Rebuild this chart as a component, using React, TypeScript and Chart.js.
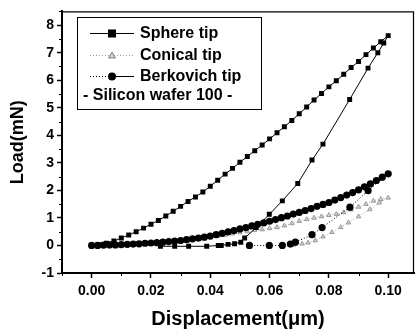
import React, { useEffect, useRef } from 'react';
import { Chart, registerables } from 'chart.js';
Chart.register(...registerables);

// ---- Data ----
const sphereLoadX = [0, 0.0025, 0.005, 0.0075, 0.01, 0.0125, 0.015, 0.0175, 0.02, 0.0225, 0.025, 0.0275, 0.03, 0.0325, 0.035, 0.0375, 0.04, 0.0425, 0.045, 0.0475, 0.05, 0.0525, 0.055, 0.0575, 0.06, 0.0625, 0.065, 0.0675, 0.07, 0.0725, 0.075, 0.0775, 0.08, 0.0825, 0.085, 0.0875, 0.09, 0.0925, 0.095, 0.0975, 0.1];
const sphereLoadY = [0, 0.03, 0.08, 0.16, 0.27, 0.38, 0.5, 0.63, 0.77, 0.91, 1.07, 1.24, 1.42, 1.6, 1.76, 1.94, 2.15, 2.37, 2.59, 2.8, 3.02, 3.23, 3.44, 3.65, 3.87, 4.09, 4.31, 4.54, 4.78, 5.03, 5.28, 5.52, 5.76, 5.98, 6.22, 6.46, 6.68, 6.93, 7.17, 7.4, 7.62];
const sphereUnloadX = [0.0985, 0.0965, 0.0932, 0.087, 0.078, 0.0743, 0.0695, 0.0643, 0.0599, 0.0555, 0.0516, 0.0503, 0.0482, 0.046, 0.0437, 0.0427, 0.0388, 0.0327, 0.028, 0.0232];
const sphereUnloadY = [7.35, 7.0, 6.44, 5.3, 3.68, 3.1, 2.25, 1.62, 1.13, 0.65, 0.27, 0.12, 0.06, 0.04, 0.0, 0.0, -0.03, -0.03, -0.03, -0.03];

const conicalLoadX = [0, 0.0025, 0.005, 0.0075, 0.01, 0.0125, 0.015, 0.0175, 0.02, 0.0225, 0.025, 0.0275, 0.03, 0.0325, 0.035, 0.0375, 0.04, 0.0425, 0.045, 0.0475, 0.05, 0.0525, 0.055, 0.0575, 0.06, 0.0625, 0.065, 0.0675, 0.07, 0.0725, 0.075, 0.0775, 0.08, 0.0825, 0.085, 0.0875, 0.09, 0.0925, 0.095, 0.0975, 0.1];
const conicalLoadY = [0, 0.0, 0.01, 0.02, 0.03, 0.04, 0.05, 0.065, 0.08, 0.1, 0.12, 0.145, 0.17, 0.2, 0.23, 0.26, 0.3, 0.34, 0.38, 0.43, 0.47, 0.51, 0.55, 0.58, 0.62, 0.66, 0.72, 0.8, 0.88, 0.95, 1.0, 1.05, 1.1, 1.14, 1.2, 1.3, 1.4, 1.5, 1.62, 1.68, 1.73];
const conicalUnloadX = [0.097, 0.0938, 0.09, 0.0866, 0.084, 0.081, 0.078, 0.0754, 0.073, 0.071, 0.068, 0.064];
const conicalUnloadY = [1.55, 1.31, 1.05, 0.83, 0.66, 0.48, 0.32, 0.18, 0.1, 0.06, 0.02, 0.0];

const berkLoadX = [0, 0.002, 0.004, 0.006, 0.008, 0.01, 0.012, 0.014, 0.016, 0.018, 0.02, 0.022, 0.024, 0.026, 0.028, 0.03, 0.032, 0.034, 0.036, 0.038, 0.04, 0.042, 0.044, 0.046, 0.048, 0.05, 0.052, 0.054, 0.056, 0.058, 0.06, 0.062, 0.064, 0.066, 0.068, 0.07, 0.072, 0.074, 0.076, 0.078, 0.08, 0.082, 0.084, 0.086, 0.088, 0.09, 0.092, 0.094, 0.096, 0.098, 0.1];
const berkLoadY = [0, 0.0, 0.01, 0.02, 0.02, 0.03, 0.04, 0.05, 0.06, 0.08, 0.09, 0.1, 0.12, 0.14, 0.16, 0.18, 0.21, 0.24, 0.27, 0.3, 0.34, 0.39, 0.44, 0.49, 0.54, 0.6, 0.65, 0.71, 0.77, 0.82, 0.88, 0.94, 1.01, 1.07, 1.14, 1.2, 1.27, 1.34, 1.42, 1.49, 1.56, 1.65, 1.74, 1.83, 1.92, 2.02, 2.13, 2.24, 2.36, 2.48, 2.6];
const berkUnloadX = [0.0932, 0.0871, 0.0777, 0.0743, 0.0687, 0.067, 0.0643, 0.0599, 0.0532];
const berkUnloadY = [1.99, 1.39, 0.65, 0.39, 0.12, 0.05, 0.0, 0.0, 0.0];

const xTickValues = [0, 0.02, 0.04, 0.06, 0.08, 0.1];
const yTickValues = [-1, 0, 1, 2, 3, 4, 5, 6, 7, 8];
const xMinorValues = [-0.01, 0.01, 0.03, 0.05, 0.07, 0.09];
const yMinorValues = [-0.5, 0.5, 1.5, 2.5, 3.5, 4.5, 5.5, 6.5, 7.5, 8.5];

const seriesNames = ['Sphere tip', 'Conical tip', 'Berkovich tip'];
const legendNote = '- Silicon wafer 100 -';

const FONT = '"Liberation Sans", Arial, sans-serif';

const toPts = (xs: number[], ys: number[]) => xs.map((x, i) => ({ x, y: ys[i] }));

const framePlugin = {
  id: 'frameAndMinor',
  afterDraw(chart: any) {
    const { ctx, chartArea } = chart;
    const xs = chart.scales.x;
    const ys = chart.scales.y;
    ctx.save();
    ctx.strokeStyle = '#000';
    ctx.lineWidth = 1.2;
    ctx.beginPath();
    ctx.moveTo(chartArea.left, chartArea.top + 0.5);
    ctx.lineTo(chartArea.right, chartArea.top + 0.5);
    ctx.moveTo(chartArea.right - 0.5, chartArea.top);
    ctx.lineTo(chartArea.right - 0.5, chartArea.bottom);
    ctx.stroke();
    ctx.lineWidth = 1;
    ctx.beginPath();
    xMinorValues.forEach((v) => {
      const px = Math.round(xs.getPixelForValue(v)) + 0.5;
      ctx.moveTo(px, chartArea.bottom);
      ctx.lineTo(px, chartArea.bottom + 3);
    });
    yMinorValues.forEach((v) => {
      const py = Math.round(ys.getPixelForValue(v)) + 0.5;
      ctx.moveTo(chartArea.left - 3, py);
      ctx.lineTo(chartArea.left, py);
    });
    ctx.stroke();
    ctx.restore();
  },
};

const legendPlugin = {
  id: 'boxLegend',
  afterDatasetsDraw(chart: any) {
    const { ctx } = chart;
    ctx.save();
    ctx.fillStyle = '#fff';
    ctx.fillRect(77.5, 17.5, 184, 92);
    ctx.strokeStyle = '#000';
    ctx.lineWidth = 1;
    ctx.strokeRect(77.5, 17.5, 184, 92);

    const rows = [33, 55, 76];
    const mx = 112;
    // Sphere
    ctx.setLineDash([]);
    ctx.strokeStyle = '#000';
    ctx.beginPath();
    ctx.moveTo(90, rows[0] + 0.5);
    ctx.lineTo(134, rows[0] + 0.5);
    ctx.stroke();
    ctx.fillStyle = '#000';
    ctx.fillRect(mx - 4, rows[0] - 3.5, 8, 8);
    // Conical
    ctx.strokeStyle = '#999';
    ctx.setLineDash([1, 2]);
    ctx.beginPath();
    ctx.moveTo(90, rows[1] + 0.5);
    ctx.lineTo(134, rows[1] + 0.5);
    ctx.stroke();
    ctx.setLineDash([]);
    ctx.fillStyle = '#ccc';
    ctx.strokeStyle = '#888';
    ctx.beginPath();
    ctx.moveTo(mx, rows[1] - 3);
    ctx.lineTo(mx + 3.5, rows[1] + 3);
    ctx.lineTo(mx - 3.5, rows[1] + 3);
    ctx.closePath();
    ctx.fill();
    ctx.stroke();
    // Berkovich
    ctx.strokeStyle = '#000';
    ctx.setLineDash([1, 2]);
    ctx.beginPath();
    ctx.moveTo(90, rows[2] + 0.5);
    ctx.lineTo(mx, rows[2] + 0.5);
    ctx.stroke();
    ctx.setLineDash([]);
    ctx.beginPath();
    ctx.moveTo(mx, rows[2] + 0.5);
    ctx.lineTo(134, rows[2] + 0.5);
    ctx.stroke();
    ctx.fillStyle = '#000';
    ctx.beginPath();
    ctx.arc(mx, rows[2] + 0.5, 4, 0, Math.PI * 2);
    ctx.fill();

    ctx.fillStyle = '#000';
    ctx.font = `bold 16px ${FONT}`;
    ctx.textBaseline = 'middle';
    ctx.textAlign = 'left';
    seriesNames.forEach((n, i) => ctx.fillText(n, 140, rows[i] + 1));
    ctx.fillText(legendNote, 83, 96);
    ctx.restore();
  },
};

export default function App() {
  const ref = useRef<HTMLCanvasElement>(null);
  useEffect(() => {
    if (!ref.current) return;
    const chart = new Chart(ref.current, {
      type: 'scatter',
      data: {
        datasets: [
          {
            label: seriesNames[0],
            data: [...toPts(sphereLoadX, sphereLoadY), ...toPts(sphereUnloadX, sphereUnloadY)],
            showLine: true,
            borderColor: '#000',
            backgroundColor: '#000',
            borderWidth: 1,
            pointStyle: 'rect',
            pointRadius: 3.5,
            pointBorderWidth: 0,
            order: 0,
          },
          {
            label: seriesNames[1],
            data: [...toPts(conicalLoadX, conicalLoadY), ...toPts(conicalUnloadX, conicalUnloadY)],
            showLine: true,
            borderColor: '#aaa',
            backgroundColor: '#d0d0d0',
            borderWidth: 1,
            borderDash: [1, 2],
            pointStyle: 'triangle',
            pointRadius: 2.6,
            pointBorderColor: '#999',
            pointBorderWidth: 1,
            order: 2,
          },
          {
            label: seriesNames[2],
            data: [...toPts(berkLoadX, berkLoadY), ...toPts(berkUnloadX, berkUnloadY)],
            showLine: true,
            borderColor: '#000',
            backgroundColor: '#000',
            borderWidth: 1,
            borderDash: [1, 2],
            pointStyle: 'circle',
            pointRadius: 3.6,
            pointBorderWidth: 0,
            order: 1,
          },
        ],
      },
      options: {
        animation: false,
        responsive: false,
        layout: { padding: { top: 7, right: 1, left: 0, bottom: 0 } },
        plugins: { legend: { display: false }, tooltip: { enabled: false } },
        scales: {
          x: {
            type: 'linear',
            min: -0.01,
            max: 0.1087,
            afterBuildTicks: (s: any) => {
              s.ticks = xTickValues.map((v) => ({ value: v }));
            },
            afterFit: (s: any) => {
              s.height = 61;
            },
            grid: { drawOnChartArea: false, drawTicks: true, tickLength: 5, color: '#000', tickWidth: 1.5 },
            border: { display: true, color: '#000', width: 2 },
            ticks: {
              color: '#000',
              font: { family: FONT, size: 14, weight: 'bold' },
              padding: 5,
              maxRotation: 0,
              callback: (v: any) => Number(v).toFixed(2),
            },
            title: {
              display: true,
              text: 'Displacement(\u03bcm)',
              color: '#000',
              font: { family: FONT, size: 20, weight: 'bold' },
              padding: { top: 0, bottom: 3 },
            },
          },
          y: {
            type: 'linear',
            min: -1,
            max: 8.5,
            afterBuildTicks: (s: any) => {
              s.ticks = yTickValues.map((v) => ({ value: v }));
            },
            afterFit: (s: any) => {
              s.width = 62;
            },
            grid: { drawOnChartArea: false, drawTicks: true, tickLength: 5, color: '#000', tickWidth: 1.5 },
            border: { display: true, color: '#000', width: 2 },
            ticks: {
              color: '#000',
              font: { family: FONT, size: 14, weight: 'bold' },
              padding: 3,
              callback: (v: any) => String(v),
            },
            title: {
              display: true,
              text: 'Load(mN)',
              color: '#000',
              font: { family: FONT, size: 18, weight: 'bold' },
              padding: { top: 7, bottom: 0 },
            },
          },
        },
      },
      plugins: [framePlugin, legendPlugin],
    });
    return () => chart.destroy();
  }, []);
  return (
    <div style={{ position: 'absolute', left: 0, top: 0, width: 419, height: 334, background: '#fff' }}>
      <canvas ref={ref} width={419} height={334} />
    </div>
  );
}
